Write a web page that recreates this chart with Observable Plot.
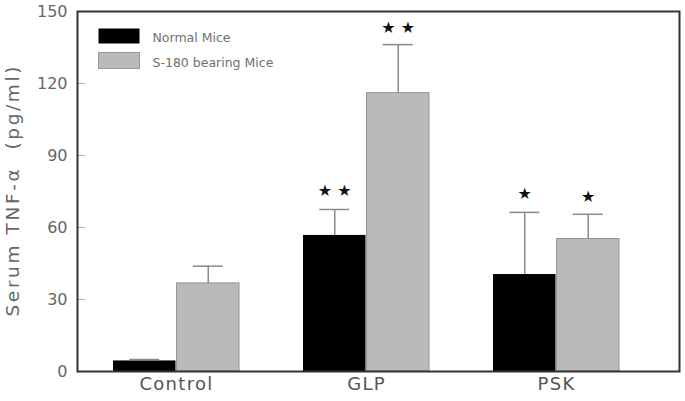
<!DOCTYPE html>
<html>
<head>
<meta charset="utf-8">
<script src="https://cdn.jsdelivr.net/npm/d3@7"></script>
<script src="https://cdn.jsdelivr.net/npm/@observablehq/plot@0.6"></script>
<style>
  html, body { margin: 0; padding: 0; background: #fff; }
  #chart svg { display: block; }
</style>
</head>
<body>
<div id="chart"></div>
<script>
const groups = ["Control", "GLP", "PSK"];
const series = ["Normal Mice", "S-180 bearing Mice"];
const normalMean = [4.4, 56.7, 40.4];
const normalErr = [0.6, 10.8, 25.9];
const s180Mean = [36.7, 116.0, 55.2];
const s180Err = [7.2, 20.2, 10.3];
const normalSig = ["", "★ ★", "★"];
const s180Sig = ["", "★ ★", "★"];
const yTicks = [0, 30, 60, 90, 120, 150];
const yLabel = "Serum TNF-α  (pg/ml)";

const rows = [];
groups.forEach((g, i) => {
  rows.push({group: g, series: series[0], mean: normalMean[i], err: normalErr[i], sig: normalSig[i]});
  rows.push({group: g, series: series[1], mean: s180Mean[i], err: s180Err[i], sig: s180Sig[i]});
});
const normal = rows.filter(d => d.series === series[0]);
const s180 = rows.filter(d => d.series === series[1]);

const W = 685, H = 401, mL = 77, mR = 6, mT = 11, mB = 30;
const frameW = W - mL - mR, frameH = H - mT - mB;
const pInner = 0.335, pOuter = 0.2435;
const step = frameW / (groups.length - pInner + 2 * pOuter);
const bw = step * (1 - pInner);
const half = bw / 2;
const capHalf = 15.5;

const fontFam = "'DejaVu Sans', Verdana, sans-serif";
const colNormal = "#000000";
const colS180 = "#bababa";
const errCol = "#8a8a8a";

const chart = Plot.plot({
  width: W, height: H,
  marginLeft: mL, marginRight: mR, marginTop: mT, marginBottom: mB,
  style: {fontFamily: fontFam, background: "#fff"},
  x: {domain: groups, paddingInner: pInner, paddingOuter: pOuter, align: 0.38, label: null},
  y: {domain: [0, 150], label: null},
  marks: [
    // bars
    Plot.barY(normal, {x: "group", y: "mean", fill: colNormal, insetRight: half}),
    Plot.barY(s180, {x: "group", y: "mean", fill: colS180, stroke: "#959595", strokeWidth: 1, insetLeft: half}),
    // error lines
    Plot.ruleX(normal, {x: "group", y1: "mean", y2: d => d.mean + d.err, stroke: errCol, strokeWidth: 1.5, dx: -half / 2}),
    Plot.ruleX(s180, {x: "group", y1: "mean", y2: d => d.mean + d.err, stroke: errCol, strokeWidth: 1.5, dx: half / 2}),
    // error caps
    Plot.tickY(normal, {x: "group", y: d => d.mean + d.err, stroke: errCol, strokeWidth: 1.5,
      insetLeft: half / 2 - capHalf, insetRight: bw - half / 2 - capHalf}),
    Plot.tickY(s180, {x: "group", y: d => d.mean + d.err, stroke: errCol, strokeWidth: 1.5,
      insetLeft: half + half / 2 - capHalf, insetRight: half / 2 - capHalf}),
    // significance stars
    Plot.text(normal, {x: "group", y: d => d.mean + d.err, text: "sig", dx: -half / 2, dy: -19,
      fontSize: 16, fill: "#111", lineAnchor: "middle"}),
    Plot.text(s180, {x: "group", y: d => d.mean + d.err, text: "sig", dx: half / 2, dy: -17,
      fontSize: 16, fill: "#111", lineAnchor: "middle"}),
    // y tick marks (inward)
    Plot.ruleY(yTicks, {y: d => d, insetRight: frameW - 8, stroke: "#aaa", strokeWidth: 1}),
    // axes
    Plot.axisY(yTicks, {tickSize: 0, tickPadding: 10, fontSize: 16, fill: "#666", label: null}),
    Plot.axisX({tickSize: 0, tickPadding: 6, fontSize: 18, fill: "#555", label: null}),
    Plot.text([yLabel], {frameAnchor: "left", textAnchor: "middle", text: d => d, rotate: -90, dx: -64,
      fontSize: 18.5, fill: "#666"}),
    // legend
    Plot.frame({fill: colNormal, insetLeft: 21, insetTop: 17, insetRight: frameW - 62, insetBottom: frameH - 32}),
    Plot.frame({fill: colS180, stroke: "#999", insetLeft: 21, insetTop: 41, insetRight: frameW - 62, insetBottom: frameH - 57}),
    Plot.text([series[0]], {frameAnchor: "top-left", text: d => d, dx: 75, dy: 26, fontSize: 12.5, fill: "#707070", lineAnchor: "middle"}),
    Plot.text([series[1]], {frameAnchor: "top-left", text: d => d, dx: 75, dy: 51, fontSize: 12.5, fill: "#707070", lineAnchor: "middle"}),
    // frame
    Plot.frame({stroke: "#333", strokeWidth: 2})
  ]
});
d3.select(chart).selectAll("text")
  .filter(function() { return this.textContent === yLabel; })
  .attr("textLength", 250).attr("lengthAdjust", "spacing");
d3.select(chart).selectAll("text")
  .filter(function() { return groups.includes(this.textContent); })
  .style("letter-spacing", "1.3px");
document.getElementById("chart").appendChild(chart);
</script>
</body>
</html>
